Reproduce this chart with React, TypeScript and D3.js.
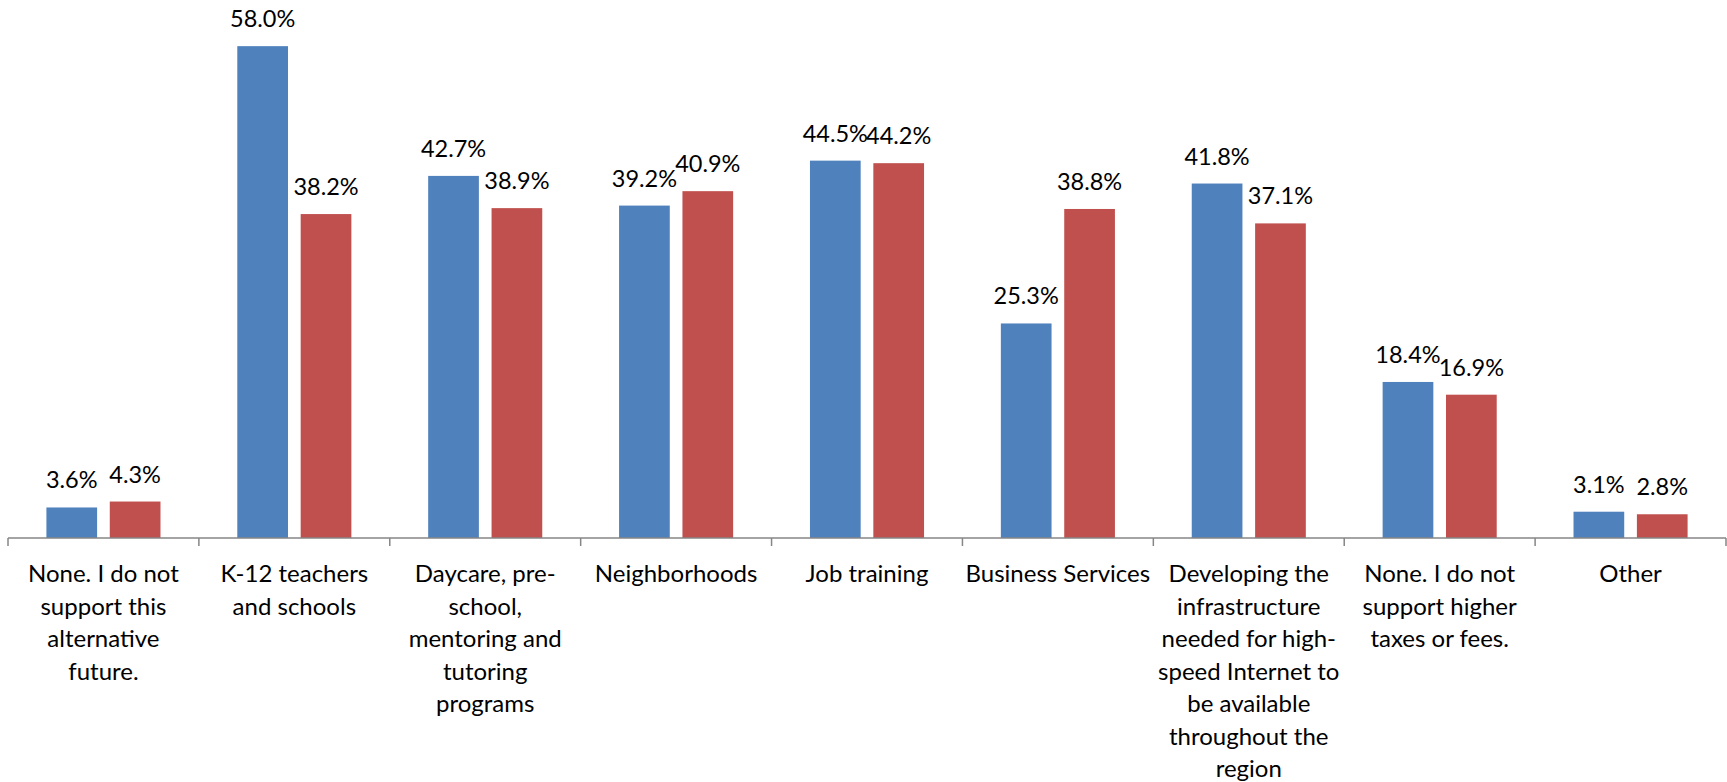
import React from "react";
import * as d3 from "d3";

const categories: string[][] = [
  ["None. I do not", "support this", "alternative", "future."],
  ["K-12 teachers", "and schools"],
  ["Daycare, pre-", "school,", "mentoring and", "tutoring", "programs"],
  ["Neighborhoods"],
  ["Job training"],
  ["Business Services"],
  ["Developing the", "infrastructure", "needed for high-", "speed Internet to", "be available", "throughout the", "region"],
  ["None. I do not", "support higher", "taxes or fees."],
  ["Other"],
];
const seriesA: number[] = [3.6, 58.0, 42.7, 39.2, 44.5, 25.3, 41.8, 18.4, 3.1];
const seriesB: number[] = [4.3, 38.2, 38.9, 40.9, 44.2, 38.8, 37.1, 16.9, 2.8];
const seriesKeys = ["A", "B"];
const seriesColors = ["#4F81BD", "#C0504D"];

const W = 1727;
const H = 782;
const FONT = "Lato, 'Open Sans', sans-serif";

export default function App() {
  const keys = categories.map((_, i) => String(i));
  const x0 = d3.scaleBand<string>().domain(keys).range([8, 1726]).padding(0);
  const x1 = d3
    .scaleBand<string>()
    .domain(seriesKeys)
    .range([0, x0.bandwidth()])
    .paddingInner(0.2)
    .paddingOuter(0.606);
  const y = d3.scaleLinear().domain([0, 60]).range([538, 29.2]);
  const series = [seriesA, seriesB];
  const baseY = y(0);
  const tickXs = keys.map((k) => x0(k)!).concat([x0.range()[1]]);

  return (
    <svg
      width={W}
      height={H}
      style={{ position: "absolute", left: 0, top: 0, background: "#fff" }}
      fontFamily={FONT}
    >
      <rect x={0} y={0} width={W} height={H} fill="#fff" />
      {series.map((vals, si) =>
        vals.map((v, i) => {
          const bx = x0(keys[i])! + x1(seriesKeys[si])!;
          const bw = x1.bandwidth();
          return (
            <g key={`${si}-${i}`}>
              <rect x={bx} y={y(v)} width={bw} height={baseY - y(v)} fill={seriesColors[si]} />
              <text
                x={bx + bw / 2}
                y={y(v) - 19}
                textAnchor="middle"
                fontSize={23.5}
                fill="#000"
              >
                {v.toFixed(1) + "%"}
              </text>
            </g>
          );
        })
      )}
      <line x1={x0.range()[0]} x2={x0.range()[1]} y1={baseY} y2={baseY} stroke="#868686" strokeWidth={1.5} />
      {tickXs.map((tx, i) => (
        <line key={i} x1={tx} x2={tx} y1={baseY} y2={baseY + 8} stroke="#868686" strokeWidth={1.5} />
      ))}
      {categories.map((lines, i) => {
        const cx = x0(keys[i])! + x0.bandwidth() / 2;
        return (
          <text key={i} textAnchor="middle" fontSize={24} fill="#000">
            {lines.map((ln, j) => (
              <tspan key={j} x={cx} y={582 + j * 32.5}>
                {ln}
              </tspan>
            ))}
          </text>
        );
      })}
    </svg>
  );
}
